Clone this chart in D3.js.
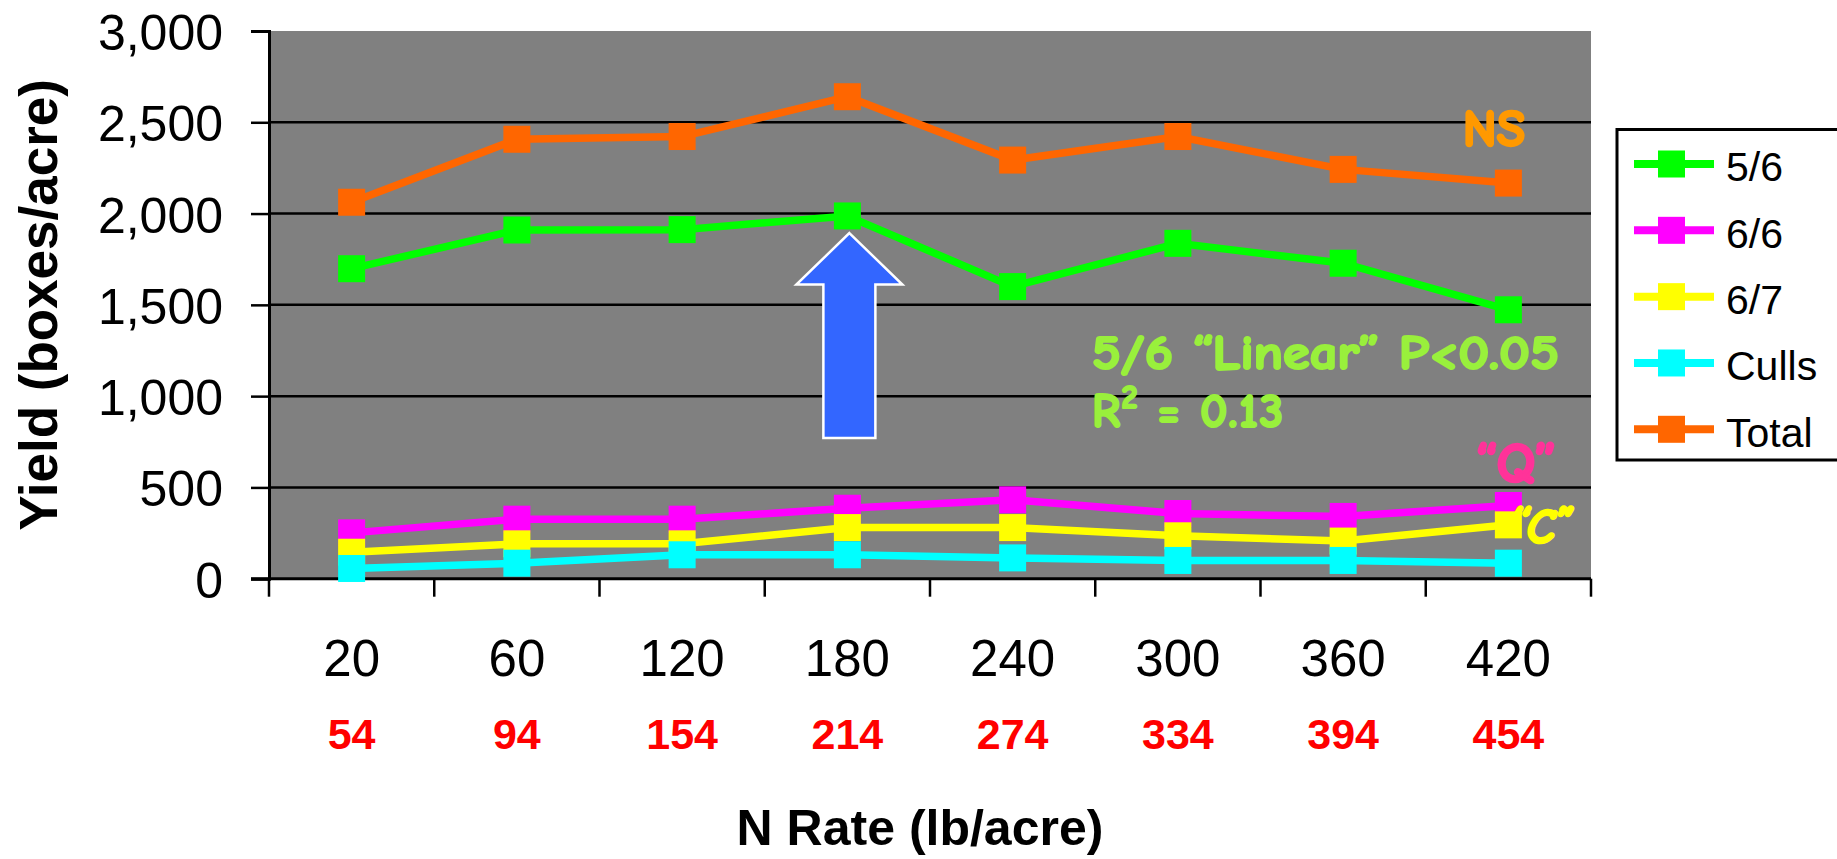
<!DOCTYPE html>
<html>
<head>
<meta charset="utf-8">
<script src="https://cdn.jsdelivr.net/npm/d3@7"></script>
<style>
  html, body { margin: 0; padding: 0; background: #ffffff; }
  svg { display: block; }
</style>
</head>
<body>
<svg id="chart" width="1837" height="859"></svg>
<script>
// ---------------- DATA ----------------
const categories = ["20", "60", "120", "180", "240", "300", "360", "420"];
const secondRowLabels = ["54", "94", "154", "214", "274", "334", "394", "454"];
const yTickValues = [0, 500, 1000, 1500, 2000, 2500, 3000];

const seriesNames = ["5/6", "6/6", "6/7", "Culls", "Total"];
const values56    = [1698, 1910, 1912, 1987, 1600, 1837, 1728, 1473];
const values66    = [251, 326, 326, 386, 432, 357, 341, 401];
const values67    = [145, 191, 191, 280, 280, 235, 206, 295];
const valuesCulls = [56, 85, 131, 131, 114, 100, 100, 85];
const valuesTotal = [2062, 2407, 2422, 2640, 2293, 2422, 2242, 2167];
const seriesColors = ["#00FF00", "#FF00FF", "#FFFF00", "#00FFFF", "#FF6600"];

const yTitle = "Yield (boxes/acre)";
const xTitle = "N Rate (lb/acre)";

// ---------------- BUILD ----------------
const seriesValues = [values56, values66, values67, valuesCulls, valuesTotal];
const series = seriesNames.map((name, i) => ({
  name, color: seriesColors[i],
  points: categories.map((c, j) => ({ cat: c, value: seriesValues[i][j] }))
}));

const svg = d3.select("#chart");
const plot = { left: 269, right: 1591, top: 31, bottom: 578.7 };

const x = d3.scaleBand().domain(categories).range([plot.left, plot.right]).padding(0);
const y = d3.scaleLinear().domain([0, 3000]).range([plot.bottom, plot.top]);
const cx = d => x(d) + x.bandwidth() / 2;

const baseFont = "'Liberation Sans', Arial, Helvetica, sans-serif";
const comicFont = "'Comic Sans MS', 'Comic Neue', 'Open Sans', 'Noto Sans', sans-serif";

svg.append("rect").attr("width", 1837).attr("height", 859).attr("fill", "#ffffff");

// plot background
svg.append("rect")
  .attr("x", plot.left).attr("y", plot.top)
  .attr("width", plot.right - plot.left).attr("height", plot.bottom - plot.top)
  .attr("fill", "#808080");

// gridlines
svg.append("g")
  .selectAll("line")
  .data(yTickValues.filter(v => v > 0 && v < 3000))
  .join("line")
  .attr("x1", plot.left).attr("x2", plot.right)
  .attr("y1", d => y(d)).attr("y2", d => y(d))
  .attr("stroke", "#000").attr("stroke-width", 2.5);

// Y axis
const yAxis = svg.append("g")
  .attr("transform", `translate(${plot.left},0)`)
  .call(d3.axisLeft(y).tickValues(yTickValues).tickSize(18).tickPadding(28)
    .tickFormat(d3.format(",")));
yAxis.select(".domain").attr("stroke", "#000").attr("stroke-width", 3);
yAxis.selectAll(".tick line").attr("stroke", "#000").attr("stroke-width", 2.5);
yAxis.selectAll(".tick text")
  .attr("font-family", baseFont).attr("font-size", 50).attr("fill", "#000")
  .attr("dy", "0.37em");

// X axis (labels at band centres)
const xAxis = svg.append("g")
  .attr("transform", `translate(0,${plot.bottom})`)
  .call(d3.axisBottom(x).tickSize(0).tickPadding(61));
xAxis.select(".domain").remove();
xAxis.selectAll(".tick text")
  .attr("font-family", baseFont).attr("font-size", 51).attr("fill", "#000");

// x axis line + boundary ticks
svg.append("line")
  .attr("x1", plot.left - 18).attr("x2", plot.right)
  .attr("y1", plot.bottom).attr("y2", plot.bottom)
  .attr("stroke", "#000").attr("stroke-width", 3);
const boundaries = categories.map(c => x(c)).concat([x(categories[categories.length - 1]) + x.bandwidth()]);
svg.append("g").selectAll("line")
  .data(boundaries).join("line")
  .attr("x1", d => d).attr("x2", d => d)
  .attr("y1", plot.bottom).attr("y2", plot.bottom + 18)
  .attr("stroke", "#000").attr("stroke-width", 2.5);

// second row of red labels
svg.append("g").selectAll("text")
  .data(categories.map((c, i) => ({ c, label: secondRowLabels[i] })))
  .join("text")
  .attr("x", d => cx(d.c)).attr("y", 749)
  .attr("text-anchor", "middle")
  .attr("font-family", baseFont).attr("font-weight", "bold").attr("font-size", 43)
  .attr("fill", "#FF0000")
  .text(d => d.label);

// axis titles
svg.append("text")
  .attr("transform", `translate(57,${(plot.top + plot.bottom) / 2}) rotate(-90)`)
  .attr("text-anchor", "middle")
  .attr("font-family", baseFont).attr("font-weight", "bold").attr("font-size", 53)
  .attr("fill", "#000")
  .text(yTitle);

svg.append("text")
  .attr("x", 920).attr("y", 845)
  .attr("text-anchor", "middle")
  .attr("font-family", baseFont).attr("font-weight", "bold").attr("font-size", 50)
  .attr("fill", "#000")
  .text(xTitle);

// blue arrow annotation (anchored to the 180 category and y scale)
const ax = cx("180") + 2;
const tipY = y(1893), headY = y(1611), baseY = y(770);
svg.append("path")
  .attr("d", `M${ax},${tipY} L${ax + 53},${headY} L${ax + 26},${headY} L${ax + 26},${baseY}
              L${ax - 26},${baseY} L${ax - 26},${headY} L${ax - 53},${headY} Z`)
  .attr("fill", "#3366FF").attr("stroke", "#FFFFFF").attr("stroke-width", 2.5);

// lines and markers
const line = d3.line().x(d => cx(d.cat)).y(d => y(d.value));
const sg = svg.append("g").selectAll("g").data(series).join("g");
sg.append("path")
  .attr("d", d => line(d.points))
  .attr("fill", "none").attr("stroke", d => d.color).attr("stroke-width", 7.5)
  .attr("stroke-linejoin", "miter");
sg.each(function(s) {
  d3.select(this).selectAll("rect")
    .data(s.points).join("rect")
    .attr("x", d => cx(d.cat) - 13.5).attr("y", d => y(d.value) - 13.5)
    .attr("width", 27).attr("height", 27)
    .attr("fill", s.color);
});

// annotations (comic style, thickened with a same-colour stroke)
function comic(sel, color, sw) {
  return sel.attr("font-family", comicFont).attr("font-weight", "bold")
    .attr("fill", color).attr("stroke", color).attr("stroke-width", sw)
    .attr("stroke-linejoin", "round");
}

comic(svg.append("text")
  .attr("x", 1494).attr("y", 146).attr("text-anchor", "middle")
  .attr("font-size", 52), "#FF9900", 2.5).text("NS");

comic(svg.append("text")
  .attr("x", 1092).attr("y", 369)
  .attr("font-size", 48)
  .attr("textLength", 467).attr("lengthAdjust", "spacingAndGlyphs"), "#99F03C", 2.2)
  .text("5/6 \u201CLinear\u201D P<0.05");

const r2 = comic(svg.append("text")
  .attr("x", 1092).attr("y", 427)
  .attr("font-size", 48).attr("letter-spacing", 1.5), "#99F03C", 2.2);
r2.append("tspan").text("R");
r2.append("tspan").attr("font-size", 32).attr("dy", -19).text("2");
r2.append("tspan").attr("dy", 19).text(" = 0.13");

comic(svg.append("text")
  .attr("x", 1516).attr("y", 482).attr("text-anchor", "middle")
  .attr("font-size", 56), "#FF3399", 2.5).text("\u201CQ\u201D");

comic(svg.append("text")
  .attr("x", 1540).attr("y", 543).attr("text-anchor", "middle")
  .attr("font-style", "italic").attr("font-size", 48), "#FFFF00", 2.5)
  .text("\u201CC\u201D");

// legend
const lg = svg.append("g");
lg.append("rect")
  .attr("x", 1617).attr("y", 129.5).attr("width", 300).attr("height", 330.5)
  .attr("fill", "#fff").attr("stroke", "#000").attr("stroke-width", 3);
const entryY = d3.scalePoint().domain(seriesNames).range([164, 429.3]);
const le = lg.selectAll("g.entry").data(series).join("g")
  .attr("class", "entry")
  .attr("transform", d => `translate(0,${entryY(d.name)})`);
le.append("line").attr("x1", 1634).attr("x2", 1714).attr("y1", 0).attr("y2", 0)
  .attr("stroke", d => d.color).attr("stroke-width", 8);
le.append("rect").attr("x", 1658).attr("y", -13.5).attr("width", 27).attr("height", 27)
  .attr("fill", d => d.color);
le.append("text").attr("x", 1726).attr("y", 0).attr("dy", "0.42em")
  .attr("font-family", baseFont).attr("font-size", 41).attr("fill", "#000")
  .text(d => d.name);
</script>
</body>
</html>
